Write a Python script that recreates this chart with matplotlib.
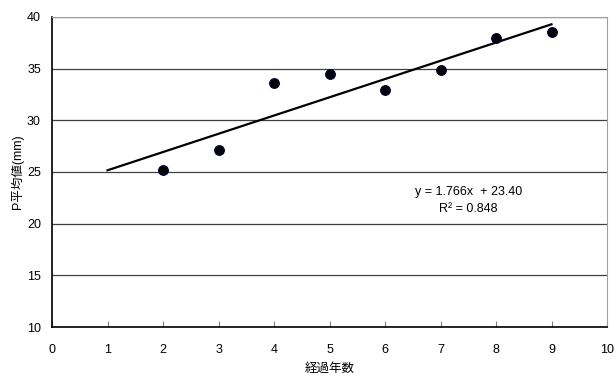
import numpy as np
import matplotlib
matplotlib.use("Agg")
import matplotlib.pyplot as plt

plt.rcParams['font.family'] = ['Liberation Sans', 'Noto Sans CJK JP']

# 経過年数 と P平均値
years = [2, 3, 4, 5, 6, 7, 8, 9]
p_mean = [25.2, 27.1, 33.6, 34.5, 32.9, 34.9, 38.0, 38.5]

# trend line (from the chart's label)
slope = 1.766
intercept = 23.40
r2 = 0.848
trend_x = [1, 9]

fig = plt.figure(figsize=(6.16, 3.76), dpi=100)
ax = fig.add_axes([52 / 616, 1 - 327 / 376, (607 - 52) / 616, (327 - 17) / 376])

ax.set_xlim(0, 10)
ax.set_ylim(10, 40)
ax.set_xticks(range(0, 11))
ax.set_yticks(range(10, 41, 5))
ax.yaxis.grid(True, color='#404040', lw=0.9)
ax.set_axisbelow(True)

tx = np.array(trend_x)
ax.plot(tx, slope * tx + intercept, color='black', lw=1.6, zorder=2)
ax.plot(years, p_mean, 'o', ms=7, mfc='black', mec='#000040', mew=0.8, zorder=3)

ax.text(7.5, 23.1, f"y = {slope:.3f}x  + {intercept:.2f}",
        ha='center', va='center', fontsize=9)
ax.text(7.5, 21.4, f"R² = {r2:.3f}", ha='center', va='center', fontsize=9)

for s in ['top', 'right']:
    ax.spines[s].set_color('#a0a0a0')
for s in ['left', 'bottom']:
    ax.spines[s].set_color('black')
    ax.spines[s].set_linewidth(1.2)

ax.tick_params(axis='x', direction='in', length=4, color='#808080', labelsize=9, pad=12)
ax.tick_params(axis='y', length=0, labelsize=9, pad=8)

ax.set_xlabel('経過年数', fontsize=9, labelpad=5)
ax.set_ylabel('P平均値(mm)', fontsize=9, labelpad=2)

fig.savefig('out.png', dpi=100)
